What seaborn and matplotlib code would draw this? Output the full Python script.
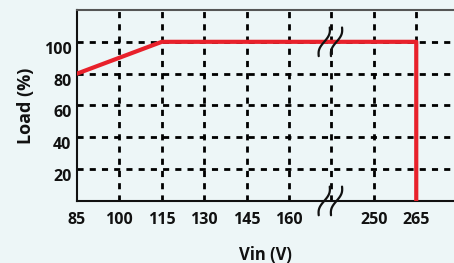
import numpy as np
import pandas as pd
import matplotlib
matplotlib.use("Agg")
import matplotlib.pyplot as plt
import seaborn as sns

# Data
tick_labels = ["85", "100", "115", "130", "145", "160", "", "250", "265"]
vin = ["85", "115", "265", "265"]
load = [80, 100, 100, 0]
y_ticks = [20, 40, 60, 80, 100]

bg = "#edf6f7"
sns.set_theme(style="white")
plt.rcParams["font.family"] = ["Open Sans", "DejaVu Sans"]

fig = plt.figure(figsize=(4.54, 2.63), dpi=100, facecolor=bg)
ax = fig.add_axes([0.1696, 0.236, 0.8304, 0.726])
ax.set_facecolor(bg)

pos = {lab: i for i, lab in enumerate(tick_labels) if lab}
df = pd.DataFrame({"x": [pos[v] for v in vin], "load": load})

# grid
for i in range(1, len(tick_labels)):
    ax.axvline(i, color="black", lw=2, ls=(0, (2.2, 2.2)), zorder=1)
for yv in y_ticks:
    ax.axhline(yv, color="black", lw=2, ls=(0, (2.2, 2.2)), zorder=1)

sns.lineplot(data=df, x="x", y="load", sort=False, color="#e8212b", lw=3,
             ax=ax, zorder=3, estimator=None)

ax.set_xlim(0, 8.89)
ax.set_ylim(0, 120)
ax.set_xticks(range(len(tick_labels)))
ax.set_xticklabels(tick_labels)
ax.set_yticks(y_ticks)
ax.set_yticklabels([str(v) for v in y_ticks])
for lab in ax.get_xticklabels() + ax.get_yticklabels():
    lab.set_fontweight("bold")
    lab.set_fontsize(11.5)
    lab.set_color("#111111")
ax.tick_params(axis="y", length=0, pad=4)
ax.tick_params(axis="x", length=0, pad=8)
for lab in ax.get_yticklabels():
    lab.set_verticalalignment("top")

ax.set_xlabel("Vin (V)", fontsize=12, fontweight="bold", color="#111111", labelpad=13)
ax.set_ylabel("Load (%)", fontsize=13, fontweight="bold",
              color="#111111", labelpad=6)

for side in ["left", "bottom", "top"]:
    ax.spines[side].set_color("#111111")
    ax.spines[side].set_linewidth(1.5)
ax.spines["right"].set_visible(False)
ax.spines["top"].set_color("#555555")

# break marks
t = np.linspace(-1, 1, 40)
for yc in (100, 0):
    for dx in (-0.17, 0.12):
        xs = 6 + dx + 0.13 * t + 0.05 * np.sin(np.pi * t)
        ys = yc + 9 * t
        ax.plot(xs, ys, color="#111111", lw=1.6, clip_on=False, zorder=4)

fig.savefig("out.png", dpi=100, facecolor=bg)
